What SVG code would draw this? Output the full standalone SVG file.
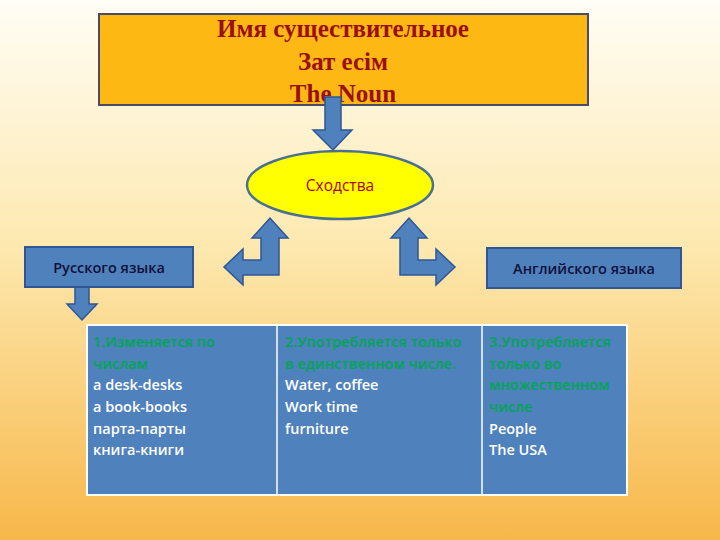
<svg xmlns="http://www.w3.org/2000/svg" width="720" height="540" viewBox="0 0 720 540">
<defs>
<linearGradient id="bg" x1="0" y1="0" x2="0" y2="1">
<stop offset="0" stop-color="#fffdf5"/><stop offset="0.45" stop-color="#fde9b0"/><stop offset="1" stop-color="#f7b74a"/>
</linearGradient>
<style>
.bar{fill:#4f81bd;stroke:#2f5597;stroke-width:2}
.arr{fill:#4f81bd;stroke:#2f5597;stroke-width:1.5}
.s{font-family:"Open Sans","DejaVu Sans",sans-serif;font-size:14.5px;font-weight:600}
.g{fill:#00a651}
.w{fill:#ffffff}
</style>
</defs>
<rect width="720" height="540" fill="url(#bg)"/>
<g id="title">
<rect x="99" y="14" width="489" height="91" fill="#fdb813" stroke="#4a4a6a" stroke-width="2"/>
<g font-family="Liberation Serif,serif" font-weight="bold" font-size="25" fill="#9a1010" text-anchor="middle" xml:space="preserve">
<text x="343" y="37">Имя существительное</text>
<text x="343" y="70">Зат   есім</text>
<text x="343" y="102">The   Noun</text>
</g>
</g>
<g id="connectors">
<path class="arr" d="M325,97 H341 V130 H352 L333,150 L313,130 H325 Z"/>
<path class="arr" d="M261,260 V238 H252 L270,218 L288,238 H279 V275 H243 V285 L224,267 L243,249 V260 Z"/>
<path class="arr" d="M418,260 V238 H427 L409,218 L391,238 H400 V275 H436 V285 L455,267 L436,249 V260 Z"/>
<path class="arr" d="M75,287 H89 V304 H97 L82,320 L67,304 H75 Z"/>
</g>
<g id="similar">
<ellipse cx="340" cy="185" rx="93" ry="34" fill="#ffff00" stroke="#4a7090" stroke-width="2.5"/>
<text x="340" y="191" text-anchor="middle" font-family="Open Sans,DejaVu Sans,sans-serif" font-size="15.5" fill="#b00000">Сходства</text>
</g>
<g id="ru">
<rect class="bar" x="25" y="247" width="168" height="40"/>
<text x="109" y="273" text-anchor="middle" class="s" fill="#10103a">Русского языка</text>
</g>
<g id="en">
<rect class="bar" x="487" y="248" width="194" height="40"/>
<text x="584" y="274" text-anchor="middle" class="s" fill="#10103a">Английского языка</text>
</g>
<g id="table">
<rect x="87" y="325" width="540" height="170" fill="#4f81bd" stroke="#ffffff" stroke-width="2"/>
<line x1="277" y1="325" x2="277" y2="495" stroke="#fff" stroke-width="1.5"/>
<line x1="482" y1="325" x2="482" y2="495" stroke="#fff" stroke-width="1.5"/>
<g class="s">
<text x="93" y="347" class="g">1.Изменяется по</text>
<text x="93" y="369" class="g">числам</text>
<text x="93" y="390" class="w">a desk-desks</text>
<text x="93" y="412" class="w">a book-books</text>
<text x="93" y="434" class="w">парта-парты</text>
<text x="93" y="455" class="w">книга-книги</text>
<text x="285" y="347" class="g">2.Употребляется только</text>
<text x="285" y="369" class="g">в единственном числе.</text>
<text x="285" y="390" class="w">Water, coffee</text>
<text x="285" y="412" class="w">Work time</text>
<text x="285" y="434" class="w">furniture</text>
<text x="489" y="347" class="g">3.Употребляется</text>
<text x="489" y="369" class="g">только во</text>
<text x="489" y="390" class="g">множественном</text>
<text x="489" y="412" class="g">числе</text>
<text x="489" y="434" class="w">People</text>
<text x="489" y="455" class="w">The USA</text>
</g>
</g>
</svg>
